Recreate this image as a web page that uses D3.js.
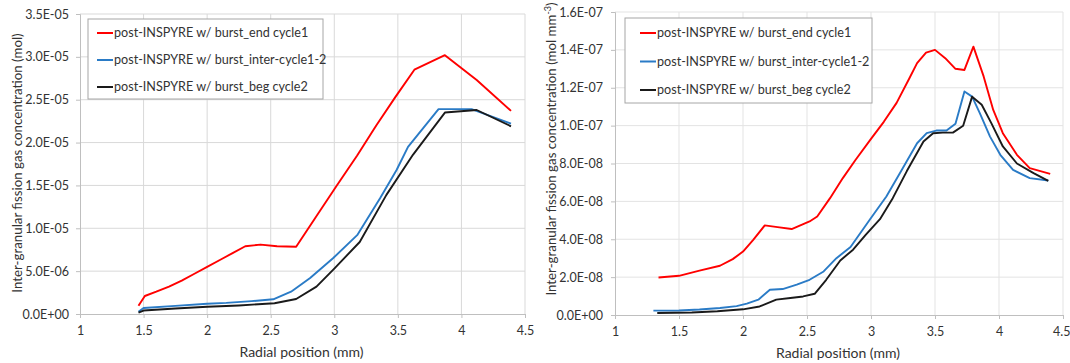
<!DOCTYPE html>
<html><head><meta charset="utf-8">
<script src="https://cdn.jsdelivr.net/npm/d3@7"></script>
<style>
body{margin:0;background:#fff;}
text{font-family:Lato,"Open Sans",sans-serif;fill:#333;}
</style></head>
<body><svg id="c" width="1070" height="363"></svg>
<script>
const seriesNames = ["post-INSPYRE w/ burst_end cycle1","post-INSPYRE w/ burst_inter-cycle1-2","post-INSPYRE w/ burst_beg cycle2"];
const seriesColors = ["#ff0000","#2a7bc6","#1a1a1a"];
const xTicks = [1,1.5,2,2.5,3,3.5,4,4.5];
const xTickLabels = ["1","1.5","2","2.5","3","3.5","4","4.5"];

// Left chart (mol)
const leftYTicks = [0,5e-6,1e-5,1.5e-5,2e-5,2.5e-5,3e-5,3.5e-5];
const leftYTickLabels = ["0.0E+00","5.0E-06","1.0E-05","1.5E-05","2.0E-05","2.5E-05","3.0E-05","3.5E-05"];
const leftRedX = [1.46,1.51,1.6,1.7,1.8,1.9,2.0,2.1,2.2,2.3,2.42,2.55,2.7,2.85,3.02,3.18,3.33,3.48,3.63,3.87,4.12,4.39];
const leftRedY = [0.95e-6,2.1e-6,2.6e-6,3.2e-6,3.9e-6,4.7e-6,5.5e-6,6.3e-6,7.1e-6,7.9e-6,8.1e-6,7.9e-6,7.85e-6,1.12e-5,1.5e-5,1.85e-5,2.2e-5,2.53e-5,2.85e-5,3.02e-5,2.73e-5,2.37e-5];
const leftBlueX = [1.46,1.5,1.75,2.0,2.15,2.35,2.52,2.66,2.81,2.99,3.18,3.36,3.49,3.58,3.82,4.08,4.39];
const leftBlueY = [0.27e-6,0.7e-6,0.95e-6,1.2e-6,1.3e-6,1.5e-6,1.72e-6,2.6e-6,4.2e-6,6.5e-6,9.2e-6,1.35e-5,1.68e-5,1.95e-5,2.39e-5,2.39e-5,2.22e-5];
const leftBlackX = [1.46,1.5,1.75,2.0,2.25,2.53,2.70,2.86,3.0,3.2,3.41,3.62,3.87,4.12,4.39];
const leftBlackY = [0.15e-6,0.4e-6,0.65e-6,0.85e-6,1.0e-6,1.25e-6,1.75e-6,3.2e-6,5.3e-6,8.4e-6,1.39e-5,1.86e-5,2.35e-5,2.38e-5,2.19e-5];

// Right chart (mol mm-3)
const rightYTicks = [0,2e-8,4e-8,6e-8,8e-8,1e-7,1.2e-7,1.4e-7,1.6e-7];
const rightYTickLabels = ["0.0E+00","2.0E-08","4.0E-08","6.0E-08","8.0E-08","1.0E-07","1.2E-07","1.4E-07","1.6E-07"];
const rightRedX = [1.34,1.5,1.66,1.82,1.92,2.0,2.08,2.17,2.27,2.38,2.52,2.58,2.68,2.78,2.88,3.0,3.1,3.2,3.3,3.36,3.43,3.5,3.58,3.66,3.73,3.80,3.88,3.955,4.03,4.14,4.24,4.40];
const rightRedY = [1.98e-8,2.07e-8,2.34e-8,2.6e-8,2.95e-8,3.35e-8,3.97e-8,4.73e-8,4.64e-8,4.54e-8,4.94e-8,5.2e-8,6.17e-8,7.23e-8,8.2e-8,9.3e-8,1.02e-7,1.12e-7,1.25e-7,1.33e-7,1.385e-7,1.40e-7,1.356e-7,1.30e-7,1.294e-7,1.417e-7,1.26e-7,1.083e-7,9.6e-8,8.46e-8,7.76e-8,7.45e-8];
const rightBlueX = [1.30,1.5,1.66,1.82,1.95,2.03,2.12,2.21,2.31,2.42,2.52,2.63,2.73,2.84,2.99,3.12,3.24,3.36,3.435,3.51,3.59,3.66,3.73,3.79,3.85,3.93,4.01,4.11,4.24,4.385];
const rightBlueY = [2.3e-9,2.4e-9,2.9e-9,3.7e-9,4.7e-9,6e-9,8.1e-9,1.33e-8,1.37e-8,1.6e-8,1.86e-8,2.3e-8,3.0e-8,3.59e-8,5.03e-8,6.26e-8,7.66e-8,9.07e-8,9.6e-8,9.74e-8,9.74e-8,1.01e-7,1.18e-7,1.153e-7,1.066e-7,9.42e-8,8.46e-8,7.66e-8,7.23e-8,7.1e-8];
const rightBlackX = [1.33,1.6,1.8,2.0,2.13,2.26,2.37,2.47,2.56,2.65,2.76,2.86,2.96,3.07,3.17,3.28,3.41,3.485,3.56,3.64,3.72,3.79,3.865,3.94,4.03,4.14,4.27,4.385];
const rightBlackY = [1.05e-9,1.3e-9,2e-9,3.0e-9,4.5e-9,8.1e-9,9.0e-9,9.8e-9,1.12e-8,1.86e-8,2.88e-8,3.45e-8,4.24e-8,5.06e-8,6.17e-8,7.6e-8,9.16e-8,9.6e-8,9.63e-8,9.63e-8,9.99e-8,1.153e-7,1.11e-7,1.013e-7,8.9e-8,8.0e-8,7.49e-8,7.08e-8];

const svg = d3.select("#c");

function drawChart(cfg){
  const g = svg.append("g");
  const x = d3.scaleLinear().domain([1,4.5]).range([cfg.x0,cfg.x1]);
  const y = d3.scaleLinear().domain([0,cfg.yMax]).range([cfg.y1,cfg.y0]);
  // grid
  g.append("g").selectAll("line").data(xTicks.slice(1)).join("line")
    .attr("x1",d=>x(d)).attr("x2",d=>x(d)).attr("y1",cfg.y0).attr("y2",cfg.y1)
    .attr("stroke",cfg.grid).attr("stroke-width",1);
  g.append("g").selectAll("line").data(cfg.yTicks.slice(1)).join("line")
    .attr("x1",cfg.x0).attr("x2",cfg.x1).attr("y1",d=>y(d)).attr("y2",d=>y(d))
    .attr("stroke",cfg.grid).attr("stroke-width",1);
  // axes
  const xa = g.append("g").attr("transform",`translate(0,${cfg.y1})`)
    .call(d3.axisBottom(x).tickValues(xTicks).tickFormat((d,i)=>xTickLabels[i]).tickSize(4).tickPadding(8));
  const ya = g.append("g").attr("transform",`translate(${cfg.x0},0)`)
    .call(d3.axisLeft(y).tickValues(cfg.yTicks).tickFormat((d,i)=>cfg.yLabels[i]).tickSize(4).tickPadding(cfg.ypad));
  [xa,ya].forEach(a=>{
    a.select(".domain").attr("stroke","#bfbfbf");
    a.selectAll(".tick line").attr("stroke","#bfbfbf");
    a.selectAll("text").style("font-family","Lato, sans-serif").style("font-size","12.5px").attr("fill","#333");
  });
  if(cfg.lastShift){
    xa.selectAll(".tick text").filter((d,i)=>i===xTicks.length-1).attr("text-anchor","end").attr("x",7);
  }
  // lines
  const line = d3.line().x(d=>x(d[0])).y(d=>y(d[1]));
  cfg.series.forEach((s,i)=>{
    const pts = s.x.map((v,j)=>[v,s.y[j]]);
    g.append("path").datum(pts).attr("d",line).attr("fill","none")
      .attr("stroke",seriesColors[i]).attr("stroke-width",1.9).attr("stroke-linejoin","round");
  });
  // legend
  const L = cfg.legend;
  g.append("rect").attr("x",L.x).attr("y",L.y).attr("width",L.w).attr("height",L.h)
    .attr("fill","#fff").attr("stroke","#a6a6a6").attr("stroke-width",1);
  seriesNames.forEach((n,i)=>{
    const yy = L.y + L.first + i*L.step;
    g.append("line").attr("x1",L.x+L.lx).attr("x2",L.x+L.lx+16).attr("y1",yy).attr("y2",yy)
      .attr("stroke",seriesColors[i]).attr("stroke-width",2);
    g.append("text").attr("x",L.x+L.lx+17).attr("y",yy).attr("dy","0.35em")
      .style("font-size","12.6px").text(n);
  });
  // titles
  g.append("text").attr("x",(cfg.x0+cfg.x1)/2 - 1).attr("y",cfg.y1+43).attr("text-anchor","middle")
    .style("font-size","14px").text("Radial position (mm)");
  const yt = g.append("text").attr("transform",`translate(${cfg.ytx},${cfg.yty}) rotate(-90)`)
    .attr("text-anchor","middle").style("font-size","13.3px");
  yt.append("tspan").text(cfg.ytitle);
  if(cfg.sup){
    yt.append("tspan").attr("dy","-5").style("font-size","9px").text(cfg.sup);
    yt.append("tspan").attr("dy","5").text(")");
  }
}

drawChart({x0:80,x1:525,y0:14,y1:314,yMax:3.5e-5,yTicks:leftYTicks,yLabels:leftYTickLabels,grid:"#d9d9d9",ypad:7,
  series:[{x:leftRedX,y:leftRedY},{x:leftBlueX,y:leftBlueY},{x:leftBlackX,y:leftBlackY}],
  legend:{x:88,y:19,w:235,h:80,first:14,step:27,lx:9},
  ytx:22,yty:163,ytitle:"Inter-granular fission gas concentration (mol)"});

drawChart({x0:615,x1:1063,y0:12,y1:315,yMax:1.6e-7,yTicks:rightYTicks,yLabels:rightYTickLabels,grid:"#e3e3e3",ypad:8,lastShift:true,
  series:[{x:rightRedX,y:rightRedY},{x:rightBlueX,y:rightBlueY},{x:rightBlackX,y:rightBlackY}],
  legend:{x:625,y:18,w:247,h:85,first:15,step:28.5,lx:15},
  ytx:556,yty:149,ytitle:"Inter-granular fission gas concentration (mol mm",sup:"-3"});
</script></body></html>
